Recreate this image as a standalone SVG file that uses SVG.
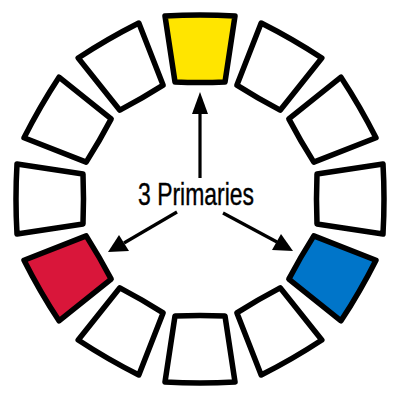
<svg xmlns="http://www.w3.org/2000/svg" width="400" height="400" viewBox="0 0 400 400">
<defs>
<style>
.seg{fill:#ffffff;stroke:#000;stroke-width:5.5;stroke-linejoin:round}
.conn{stroke:#000;stroke-width:3.2;fill:none}
.lbl{font-family:"Liberation Sans Narrow","Liberation Sans",Arial,sans-serif;font-size:32px;fill:#000;stroke:#000;stroke-width:0.4}
</style>
<path id="s" d="M-35,-183 Q0,-185 35,-183 L25,-117 Q0,-116 -25,-117 Z"/>
</defs>
<rect width="400" height="400" fill="#fff"/>
<g transform="translate(200,199)">
<g id="seg0"><use href="#s" class="seg" style="fill:#ffe500"/></g>
<g id="seg30"><use href="#s" class="seg" transform="rotate(30)"/></g>
<g id="seg60"><use href="#s" class="seg" transform="rotate(60)"/></g>
<g id="seg90"><use href="#s" class="seg" transform="rotate(90)"/></g>
<g id="seg120"><use href="#s" class="seg" style="fill:#0075c9" transform="rotate(120)"/></g>
<g id="seg150"><use href="#s" class="seg" transform="rotate(150)"/></g>
<g id="seg180"><use href="#s" class="seg" transform="rotate(180)"/></g>
<g id="seg210"><use href="#s" class="seg" transform="rotate(210)"/></g>
<g id="seg240"><use href="#s" class="seg" style="fill:#d9163a" transform="rotate(240)"/></g>
<g id="seg270"><use href="#s" class="seg" transform="rotate(270)"/></g>
<g id="seg300"><use href="#s" class="seg" transform="rotate(300)"/></g>
<g id="seg330"><use href="#s" class="seg" transform="rotate(330)"/></g>
</g>
<g id="connectors">
<line class="conn" x1="200" y1="178" x2="200" y2="112"/>
<path d="M200,92 L208,114 L192,114 Z" fill="#000"/>
<line class="conn" x1="177" y1="212" x2="124" y2="243"/>
<path d="M108,252 L119,235 L129,251 Z" fill="#000"/>
<line class="conn" x1="223" y1="213" x2="277" y2="242"/>
<path d="M293,251 L272,250 L281,234 Z" fill="#000"/>
</g>
<g id="label">
<text class="lbl" x="138" y="205" textLength="116" lengthAdjust="spacingAndGlyphs">3 Primaries</text>
</g>
</svg>
